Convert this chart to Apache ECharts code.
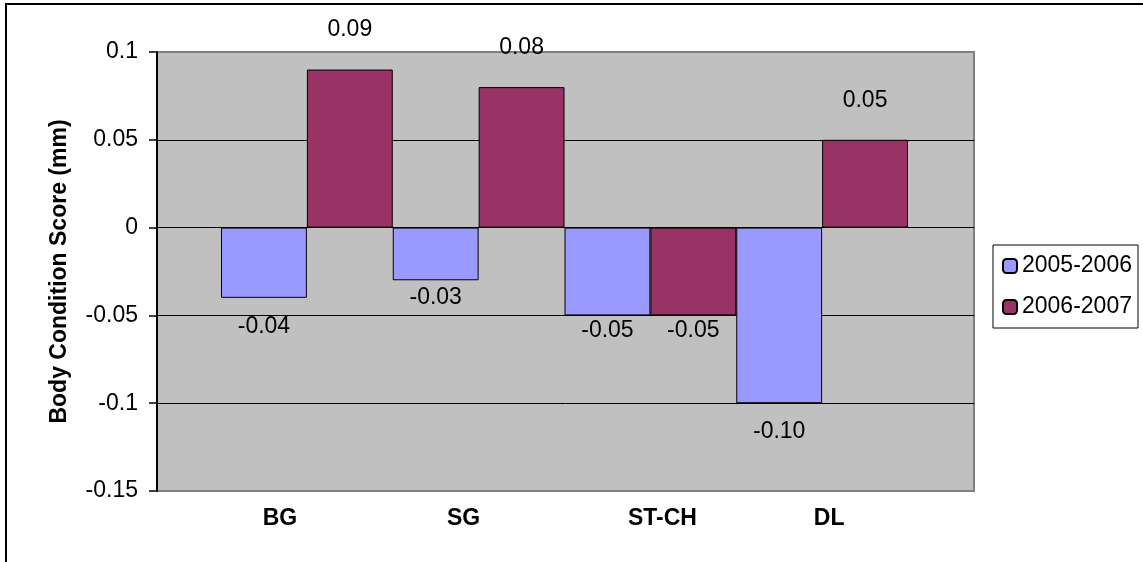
<!DOCTYPE html>
<html>
<head>
<meta charset="utf-8">
<title>Body Condition Score change by site</title>
<script src="https://cdn.jsdelivr.net/npm/echarts@6/dist/echarts.min.js"></script>
<style>
  html, body { margin: 0; padding: 0; background: #ffffff; }
  #chart { width: 1143px; height: 562px; }
</style>
</head>
<body>
<div id="chart"></div>
<script>
// Sites and the two survey intervals
const categories = ['BG', 'SG', 'ST-CH', 'DL'];
const seriesNames = ['2005-2006', '2006-2007'];
const values0506 = [-0.04, -0.03, -0.05, -0.10];
const values0607 = [0.09, 0.08, -0.05, 0.05];
const seriesColors = ['#9999FF', '#993366'];

// Axis range
const yMin = -0.15;
const yMax = 0.1;
const yStep = 0.05;

// Label layout: gap between a bar's end and its value label
const labelGap0506 = [17, 6, 4, 17];
const labelGap0607 = [28, 28, 4, 28];
// Horizontal nudge of each site name under its pair of bars
const catLabelShift = [-27, -15, 12, 7];

const FONT = '"Liberation Sans", Arial, sans-serif';
const FS = 23;

function buildData(values, gaps) {
  return values.map((v, i) => ({
    value: v,
    label: {
      position: v >= 0 ? 'top' : 'bottom',
      distance: gaps[i]
    }
  }));
}

function makeSeries(name, values, gaps, color) {
  return {
    name: name,
    type: 'bar',
    xAxisIndex: 1,
    yAxisIndex: 1,
    data: buildData(values, gaps),
    barGap: '0%',
    barCategoryGap: '0%',
    itemStyle: { color: color, borderColor: '#000000', borderWidth: 1 },
    label: {
      show: true,
      color: '#000000',
      fontFamily: FONT,
      fontSize: FS,
      formatter: p => p.value.toFixed(2)
    },
    emphasis: { disabled: true }
  };
}

// Rich styles that shift each category name left or right
const catRich = {};
catLabelShift.forEach((d, i) => {
  catRich['c' + i] = {
    fontFamily: FONT,
    fontSize: FS,
    fontWeight: 'bold',
    color: '#000000',
    padding: d >= 0 ? [0, 0, 0, 2 * d] : [0, -2 * d, 0, 0]
  };
});

const chart = echarts.init(document.getElementById('chart'), null, { renderer: 'canvas' });

chart.setOption({
  animation: false,
  backgroundColor: '#ffffff',
  textStyle: { fontFamily: FONT },
  graphic: [{
    type: 'rect',
    silent: true,
    z: -10,
    shape: { x: 6, y: 4, width: 2000, height: 2000 },
    style: { fill: 'none', stroke: '#000000', lineWidth: 2 }
  }],
  grid: [
    {
      left: 157, top: 52, width: 817, height: 439,
      show: true,
      backgroundColor: '#C0C0C0',
      borderColor: '#808080',
      borderWidth: 2
    },
    {
      left: 221, top: 52, width: 687, height: 439,
      show: false
    }
  ],
  xAxis: [
    {
      gridIndex: 0,
      type: 'category',
      data: categories,
      show: false
    },
    {
      gridIndex: 1,
      type: 'category',
      data: categories,
      axisLine: { show: false },
      axisTick: { show: false },
      axisLabel: {
        margin: 16,
        interval: 0,
        formatter: (v, i) => '{c' + i + '|' + v + '}',
        rich: catRich
      }
    }
  ],
  yAxis: [
    {
      gridIndex: 0,
      type: 'value',
      min: yMin,
      max: yMax,
      interval: yStep,
      name: 'Body Condition Score (mm)',
      nameLocation: 'middle',
      nameGap: 86,
      nameTextStyle: {
        fontFamily: FONT,
        fontSize: FS,
        fontWeight: 'bold',
        color: '#000000'
      },
      axisLine: { show: true, lineStyle: { color: '#000000', width: 2 } },
      axisTick: { show: true, inside: false, length: 8, lineStyle: { color: '#000000', width: 1.5 } },
      axisLabel: {
        margin: 19,
        color: '#000000',
        fontFamily: FONT,
        fontSize: FS,
        formatter: v => String(+v.toFixed(2))
      },
      splitLine: {
        show: true,
        lineStyle: {
          color: ['#808080', '#000000', '#000000', '#000000', '#000000', '#808080'],
          width: 1
        }
      }
    },
    {
      gridIndex: 1,
      type: 'value',
      min: yMin,
      max: yMax,
      interval: yStep,
      show: false,
      splitLine: { show: false }
    }
  ],
  legend: {
    orient: 'vertical',
    left: 993,
    top: 245,
    padding: [9, 6, 9, 9],
    itemGap: 17,
    itemWidth: 14,
    itemHeight: 14,
    borderColor: '#000000',
    borderWidth: 1,
    backgroundColor: '#ffffff',
    data: seriesNames,
    textStyle: {
      fontFamily: FONT,
      fontSize: FS,
      color: '#000000',
      lineHeight: 24
    },
    selectedMode: false
  },
  series: [
    makeSeries(seriesNames[0], values0506, labelGap0506, seriesColors[0]),
    makeSeries(seriesNames[1], values0607, labelGap0607, seriesColors[1])
  ]
});
</script>
</body>
</html>
